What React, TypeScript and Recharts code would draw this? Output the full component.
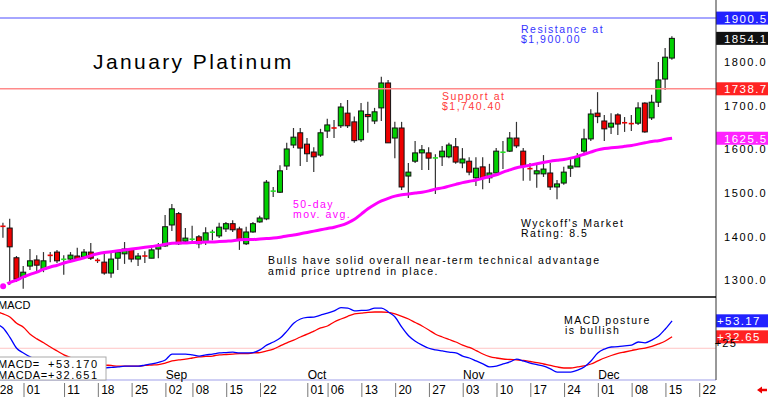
import React from "react";
import { Bar, ComposedChart, Line, ReferenceLine, XAxis, YAxis } from "recharts";

const tradingDays = [
  "07-28", "07-29", "07-30", "07-31",
  "08-01", "08-04", "08-05", "08-06", "08-07", "08-08", "08-11", "08-12", "08-13", "08-14", "08-15",
  "08-18", "08-19", "08-20", "08-21", "08-22", "08-25", "08-26", "08-27", "08-28", "08-29",
  "09-02", "09-03", "09-04", "09-05", "09-08", "09-09", "09-10", "09-11", "09-12", "09-15", "09-16",
  "09-17", "09-18", "09-19", "09-22", "09-23", "09-24", "09-25", "09-26", "09-29", "09-30",
  "10-01", "10-02", "10-03", "10-06", "10-07", "10-08", "10-09", "10-10", "10-13", "10-14", "10-15",
  "10-16", "10-17", "10-20", "10-21", "10-22", "10-23", "10-24", "10-27", "10-28", "10-29", "10-30", "10-31",
  "11-03", "11-04", "11-05", "11-06", "11-07", "11-10", "11-11", "11-12", "11-13", "11-14",
  "11-17", "11-18", "11-19", "11-20", "11-21", "11-24", "11-25", "11-26", "11-27", "11-28",
  "12-01", "12-02", "12-03", "12-04", "12-05", "12-08", "12-09", "12-10", "12-11", "12-12", "12-15", "12-16",
];
const futureDays = ["12-17", "12-18", "12-19", "12-22", "12-23", "12-24"];

const opens = [
  1440, 1425, 1420, 1352, 1308, 1333, 1347, 1326, 1359, 1365,
  1347, 1349, 1356, 1354, 1365, 1347, 1342, 1317, 1351, 1361,
  1372, 1349, 1358, 1351, 1372, 1379, 1427, 1453, 1390, 1394,
  1400, 1388, 1410, 1402, 1418, 1430, 1418, 1384, 1411, 1434,
  1441, 1504, 1502, 1562, 1610, 1638, 1612, 1594, 1587, 1642,
  1651, 1654, 1683, 1663, 1622, 1680, 1665, 1695, 1752, 1626,
  1649, 1539, 1573, 1592, 1592, 1580, 1583, 1583, 1606, 1569,
  1573, 1535, 1560, 1535, 1546, 1593, 1596, 1626, 1596, 1557,
  1544, 1544, 1546, 1514, 1523, 1557, 1560, 1596, 1624, 1683,
  1665, 1651, 1679, 1662, 1660, 1660, 1706, 1672, 1708, 1761,
  1809,
];
const highs = [
  1452, 1432, 1441, 1356, 1333, 1372, 1358, 1365, 1365, 1370,
  1358, 1365, 1375, 1372, 1386, 1351, 1367, 1365, 1370, 1388,
  1374, 1363, 1367, 1374, 1386, 1450, 1475, 1457, 1420, 1425,
  1404, 1422, 1416, 1432, 1434, 1438, 1423, 1423, 1434, 1448,
  1530, 1514, 1564, 1615, 1649, 1649, 1626, 1605, 1647, 1670,
  1667, 1706, 1713, 1675, 1706, 1709, 1695, 1766, 1759, 1663,
  1663, 1569, 1619, 1610, 1605, 1589, 1608, 1615, 1626, 1603,
  1582, 1582, 1582, 1567, 1603, 1619, 1640, 1663, 1603, 1569,
  1569, 1587, 1569, 1530, 1560, 1582, 1592, 1647, 1692, 1731,
  1679, 1683, 1683, 1674, 1679, 1708, 1708, 1725, 1800, 1832,
  1859,
];
const lows = [
  1418, 1398, 1290, 1297, 1281, 1324, 1317, 1319, 1342, 1340,
  1313, 1342, 1345, 1351, 1347, 1340, 1313, 1306, 1324, 1338,
  1342, 1333, 1340, 1351, 1351, 1377, 1413, 1381, 1386, 1384,
  1374, 1381, 1392, 1397, 1411, 1411, 1370, 1381, 1409, 1432,
  1438, 1491, 1500, 1553, 1603, 1562, 1571, 1548, 1583, 1626,
  1626, 1649, 1649, 1615, 1617, 1638, 1658, 1665, 1615, 1580,
  1507, 1489, 1569, 1553, 1553, 1498, 1562, 1580, 1567, 1557,
  1541, 1516, 1509, 1523, 1544, 1555, 1594, 1603, 1528, 1528,
  1512, 1537, 1507, 1486, 1519, 1537, 1560, 1589, 1619, 1660,
  1619, 1635, 1633, 1640, 1642, 1656, 1638, 1667, 1697, 1736,
  1805,
];
const closes = [
  1428, 1423, 1377, 1303, 1319, 1345, 1335, 1345, 1356, 1345,
  1350, 1358, 1349, 1365, 1351, 1345, 1317, 1349, 1365, 1372,
  1349, 1356, 1354, 1370, 1379, 1423, 1464, 1384, 1397, 1395,
  1384, 1409, 1411, 1422, 1430, 1416, 1392, 1411, 1430, 1443,
  1525, 1505, 1551, 1601, 1628, 1603, 1590, 1583, 1638, 1656,
  1647, 1697, 1654, 1620, 1688, 1675, 1686, 1752, 1615, 1649,
  1514, 1548, 1592, 1599, 1580, 1581, 1596, 1610, 1571, 1578,
  1548, 1557, 1535, 1546, 1596, 1594, 1626, 1608, 1562, 1555,
  1551, 1555, 1514, 1521, 1548, 1562, 1583, 1624, 1681, 1675,
  1647, 1660, 1658, 1660, 1658, 1695, 1640, 1708, 1759, 1811,
  1854.1,
];
const movAvg50 = [
  1280, 1287, 1295, 1301, 1308, 1314, 1319, 1326, 1331, 1335,
  1340, 1344, 1348, 1352, 1357, 1361, 1364, 1366, 1368, 1370,
  1372, 1374, 1376, 1378, 1380, 1383, 1385, 1386, 1386, 1387,
  1387, 1388, 1388, 1389, 1390, 1391, 1393, 1394, 1394, 1395,
  1396, 1397, 1399, 1402, 1404, 1407, 1410, 1413, 1416, 1419,
  1422, 1426, 1432, 1440, 1452, 1464, 1474, 1482, 1488, 1493,
  1496, 1498, 1500, 1502, 1505, 1509, 1512, 1516, 1520, 1524,
  1527, 1530, 1534, 1538, 1542, 1548, 1553, 1558, 1561, 1564,
  1567, 1570, 1573, 1575, 1577, 1580, 1584, 1589, 1594, 1599,
  1602, 1604, 1605, 1607, 1609, 1612, 1615, 1618, 1620, 1623,
  1625.5,
];
const macdValues = [
  49, 44, 32, 18, 12, 7, 3, 0, -2, -3.5,
  -5, -6, -7, -8, -8.5, -8, -7, -6.5, -6, -5,
  -5, -5, -3.5, -2, 0, 3, 10.5, 10.5, 10.5, 9.5,
  8, 9.5, 10.5, 12, 12.5, 13, 12, 12, 12.5, 16,
  22, 26, 31, 40, 50, 55.5, 57.5, 58, 60.5, 63,
  66, 70, 69.5, 66, 66.5, 67, 69.5, 69.5, 64.5, 58,
  45, 34, 27, 22, 18, 16, 14.5, 13, 12, 8,
  5.5, 1.7, -2, -6, -5, -2, 0.4, 4, 1.7, -1,
  -3, -5, -8.5, -12.5, -12.5, -12.5, -10, -6, 1.7, 12,
  17, 19.6, 20, 21, 22, 26, 25, 28.5, 33.7, 42.7,
  53.17,
];
const macdAvgValues = [
  65, 62, 58, 50, 45, 36, 30, 25, 19.6, 14.5,
  9.5, 6, 3.6, 1.7, 0, -2, -3.5, -4, -5, -5,
  -5, -5, -4, -3.5, -3, -1, 1.7, 3, 4, 5.5,
  7, 7.5, 8, 9.5, 10, 10.5, 11, 11, 12, 12.5,
  14.5, 17, 21, 25, 28.5, 32.4, 36, 40, 44, 46.5,
  51.7, 55.5, 59, 62, 63, 64, 64.5, 64.5, 64, 62,
  59, 55.5, 51, 46.5, 41.4, 36, 32.4, 29.2, 26, 22,
  19, 15, 10.6, 7.4, 5.5, 4.2, 3.6, 3, 2.3, 1,
  -0.3, -2.2, -4, -6, -7.3, -7.3, -6, -4.7, -2.2, 1.7,
  5.5, 8.7, 11.3, 13.2, 15.1, 17, 18.3, 20.3, 23.5, 27.3,
  32.65,
];

const dayTicks = [
  "07-28", "08-01", "08-11", "08-18", "08-25", "09-02", "09-08", "09-15", "09-22",
  "10-01", "10-06", "10-13", "10-20", "10-27", "11-03", "11-10", "11-17", "11-24",
  "12-01", "12-08", "12-15", "12-22",
];
const monthStarts: Record<string, string> = { "09-02": "Sep", "10-01": "Oct", "11-03": "Nov", "12-01": "Dec" };
const priceTicks = [1300, 1400, 1500, 1600, 1700, 1800];
const macdTicks = [0, 25];

const resistance = 1900.5;
const support = 1738.7;
const macdMark = 18;

const rows = [...tradingDays, ...futureDays].map((day, i) => ({
  day,
  range: i < closes.length ? [lows[i], highs[i]] : null,
  open: opens[i],
  high: highs[i],
  low: lows[i],
  close: closes[i],
  ma: movAvg50[i],
  macd: macdValues[i],
  macda: macdAvgValues[i],
}));

const FONT = "'Liberation Sans', Arial, sans-serif";
const W = 775;
const SHIFT = -7;

function Candle(props: any) {
  const { x, y, width, height, payload } = props;
  if (!payload || payload.range == null) return <g />;
  const { open, close, high, low } = payload;
  const top = Math.min(y, y + height);
  const h = Math.abs(height);
  const cx = x + width / 2;
  const span = high - low || 1;
  const py = (v: number) => top + ((high - v) / span) * h;
  const bodyTop = py(Math.max(open, close));
  const bodyBot = py(Math.min(open, close));
  const up = close >= open;
  const fill = up ? "#00d000" : "#ee0000";
  return (
    <g>
      <line x1={cx} x2={cx} y1={top} y2={top + h} stroke="#333" strokeWidth={1.2} />
      {bodyBot - bodyTop < 1.8 ? (
        <line
          x1={cx - 2.6}
          x2={cx + 2.6}
          y1={(bodyTop + bodyBot) / 2}
          y2={(bodyTop + bodyBot) / 2}
          stroke={up ? "#22e022" : "#ee0000"}
          strokeWidth={1.6}
        />
      ) : (
        <rect x={cx - 2.5} y={bodyTop} width={5} height={bodyBot - bodyTop} fill={fill} stroke="#111" strokeWidth={1} />
      )}
    </g>
  );
}

function ValueBox(props: any) {
  const { viewBox, fill, text, dx = 8 } = props;
  if (!viewBox) return null;
  const x = viewBox.x + viewBox.width;
  const y = viewBox.y;
  return (
    <g>
      <rect x={x} y={y - 6.5} width={60} height={13} fill={fill} />
      <text x={x + dx} y={y + 4.5} fill="#fff" fontSize={11.5} fontFamily={FONT} letterSpacing={1.4}>
        {text}
      </text>
    </g>
  );
}

function PriceTick(props: any) {
  const { x, y, payload } = props;
  return (
    <text x={x + 8} y={y + 4} fontSize={11} fontFamily={FONT} letterSpacing={1.6} fill="#000">
      {payload.value.toFixed(1)}
    </text>
  );
}

function MacdTick(props: any) {
  const { x, y, payload } = props;
  const label = payload.value > 0 ? `+${payload.value}` : `${payload.value}`;
  return (
    <text x={x + 21} y={y + 4} fontSize={11} fontFamily={FONT} letterSpacing={1.2} textAnchor="end" fill="#000">
      {label}
    </text>
  );
}

function DayTick(props: any) {
  const { x, y, payload } = props;
  const day = String(payload.value);
  const month = monthStarts[day];
  return (
    <g>
      <line x1={x + 0.6} x2={x + 0.6} y1={y + 3} y2={y + 17} stroke="#777" strokeWidth={1} />
      <text x={x + 3.4} y={y + 14} fontSize={12} fontFamily={FONT} fill="#000">
        {day.slice(3)}
      </text>
      {month && (
        <text x={x + 0.5} y={y - 1} fontSize={12} fontFamily={FONT} fill="#000">
          {month}
        </text>
      )}
    </g>
  );
}

const note = { fontSize: 10.5, fontFamily: FONT, letterSpacing: 1.5 } as const;

export default function App() {
  return (
    <div style={{ position: "absolute", left: 0, top: 0, width: 768, height: 397, overflow: "hidden", background: "#fff" }}>
      <div style={{ position: "absolute", left: SHIFT, top: 0 }}>
        <ComposedChart width={W} height={297} data={rows} margin={{ top: 0, right: 0, bottom: 0, left: 0 }}>
          <XAxis dataKey="day" hide />
          <YAxis
            orientation="right"
            width={52}
            domain={[1262.2, 1941.9]}
            allowDataOverflow
            ticks={priceTicks}
            tick={<PriceTick />}
            tickSize={0}
            tickMargin={0}
            tickLine={false}
            axisLine={{ stroke: "#333" }}
          />
          <ReferenceLine y={resistance} stroke="#8888ff" strokeWidth={1.5} label={<ValueBox fill="#2222ff" text="1900.5" />} />
          <ReferenceLine y={support} stroke="#ff8a8a" strokeWidth={1.5} label={<ValueBox fill="#ff2222" text="1738.7" />} />
          <ReferenceLine y={closes[closes.length - 1]} stroke="none" label={<ValueBox fill="#111" text="1854.1" />} />
          <ReferenceLine y={movAvg50[movAvg50.length - 1]} stroke="none" label={<ValueBox fill="#ff22ff" text="1625.5" />} />
          <Line dataKey="ma" stroke="#ff00ff" strokeWidth={3} dot={false} type="monotone" isAnimationActive={false} />
          <Bar dataKey="range" shape={<Candle />} isAnimationActive={false} />
        </ComposedChart>
      </div>
      <div style={{ position: "absolute", left: SHIFT, top: 297 }}>
        <ComposedChart width={W} height={100} data={rows} margin={{ top: 0, right: 0, bottom: 0, left: 0 }}>
          <XAxis
            dataKey="day"
            ticks={dayTicks}
            interval={0}
            tick={<DayTick />}
            tickSize={0}
            tickMargin={0}
            tickLine={false}
            height={17}
            axisLine={{ stroke: "#cfcff4", strokeWidth: 2 }}
          />
          <YAxis
            orientation="right"
            width={52}
            domain={[-22.7, 83.7]}
            allowDataOverflow
            ticks={macdTicks}
            tick={<MacdTick />}
            tickSize={0}
            tickMargin={0}
            tickLine={false}
            axisLine={{ stroke: "#333" }}
          />
          <ReferenceLine y={macdMark} stroke="#ffc4c4" strokeWidth={1} />
          <Bar dataKey="macd" shape={() => <g />} isAnimationActive={false} />
          <Line dataKey="macda" stroke="#ff0000" strokeWidth={1.3} dot={false} type="monotone" isAnimationActive={false} />
          <Line dataKey="macd" stroke="#0000ff" strokeWidth={1.3} dot={false} type="monotone" isAnimationActive={false} />
          <ReferenceLine y={macdValues[macdValues.length - 1]} stroke="none" label={<ValueBox fill="#2222ff" text="+53.17" dx={1} />} />
          <ReferenceLine y={macdAvgValues[macdAvgValues.length - 1]} stroke="none" label={<ValueBox fill="#ff2222" text="+32.65" dx={1} />} />
        </ComposedChart>
      </div>
      <svg width={768} height={397} style={{ position: "absolute", left: 0, top: 0, pointerEvents: "none" }}>
        <line x1={0} x2={716} y1={297} y2={297} stroke="#000" strokeWidth={1.5} />
        <text x={93} y={69} fontSize={21} fontFamily={FONT} letterSpacing={2.4} fill="#000">
          January Platinum
        </text>
        <text x={521} y={32.5} fill="#3333ff" {...note}>Resistance at</text>
        <text x={521} y={42.5} fill="#3333ff" {...note}>$1,900.00</text>
        <text x={442} y={100} fill="#ff3a3a" {...note}>Support at</text>
        <text x={442} y={110} fill="#ff3a3a" {...note}>$1,740.40</text>
        <text x={293} y={208} fill="#ff00ff" {...note}>50-day</text>
        <text x={293} y={218} fill="#ff00ff" {...note}>mov. avg.</text>
        <text x={521} y={227} fill="#000" {...note}>Wyckoff's Market</text>
        <text x={521} y={237} fill="#000" {...note}>Rating: 8.5</text>
        <text x={268} y={264} fill="#000" {...note}>Bulls have solid overall near-term technical advantage</text>
        <text x={268} y={275} fill="#000" {...note}>amid price uptrend in place.</text>
        <text x={564} y={324} fill="#000" {...note}>MACD posture</text>
        <text x={565} y={334} fill="#000" {...note}>is bullish</text>
        <text x={-2} y={309} fontSize={11} fontFamily={FONT} fill="#000">MACD</text>
        <rect x={-1} y={357} width={107} height={23} fill="#fff" stroke="#aaa" strokeWidth={1} />
        <text x={-2} y={367.5} fontSize={11} fontFamily={FONT} letterSpacing={0.6} fill="#000">MACD=</text>
        <text x={48} y={367.5} fontSize={11} fontFamily={FONT} letterSpacing={1.5} fill="#000">+53.170</text>
        <text x={-2} y={378.5} fontSize={11} fontFamily={FONT} letterSpacing={0.6} fill="#000">MACDA=</text>
        <text x={48} y={378.5} fontSize={11} fontFamily={FONT} letterSpacing={1.5} fill="#000">+32.651</text>
        <polygon points="757,390 762,386.5 762,388.8 767,388.8 767,391.2 762,391.2 762,393.5" fill="#ee0000" />
      </svg>
    </div>
  );
}
